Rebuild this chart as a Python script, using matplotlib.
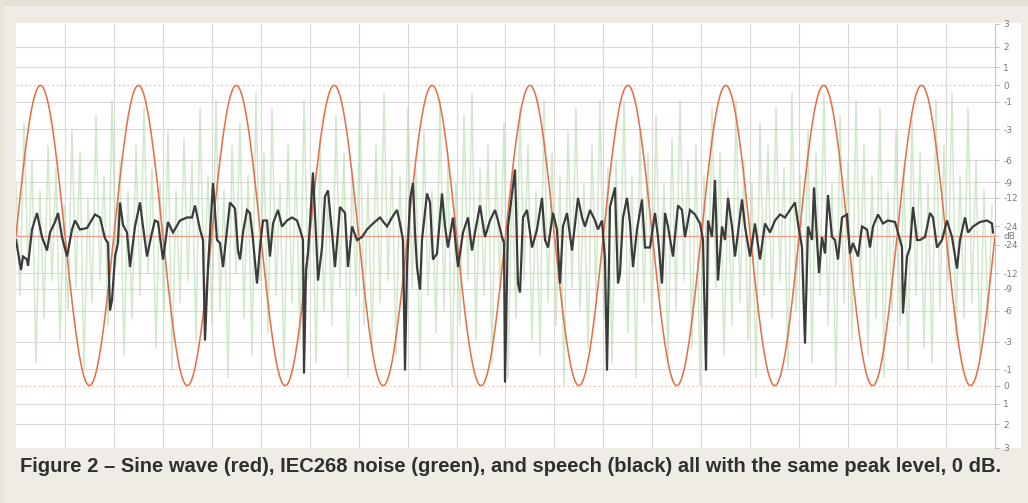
import numpy as np
import matplotlib
matplotlib.use("Agg")
import matplotlib.pyplot as plt
from matplotlib.patches import Rectangle

# ---------------- data ----------------
n_samples = 979            # horizontal extent of the trace (samples)
sine_cycles = 10           # red sine: 10 full cycles across the window
sine_peak_db = 0.0         # all signals peak at 0 dB

# right-hand scale, dB labels (upper half then lower half)
db_ticks_upper = [3, 2, 1, 0, -1, -3, -6, -9, -12, -24]
db_ticks_lower = [-24, -12, -9, -6, -3, -1, 0, 1, 2, 3]
grid_db = [2, 1, -1, -3, -6, -9, -12]

# speech (black): sample index and linear amplitude (1.0 = 0 dB)
speech_t = [0, 5, 7, 11, 12, 16, 21, 26, 31, 34, 39, 42, 46, 51, 56, 59, 64, 71, 79, 84,
            89, 92, 94, 96, 99, 102, 104, 107, 111, 114, 119, 124, 127, 131, 136, 139, 142, 147, 152, 157,
            164, 171, 176, 179, 184, 187, 189, 192, 197, 201, 204, 207, 214, 219, 222, 224, 227, 231, 234, 237,
            241, 244, 247, 251, 254, 257, 262, 266, 271, 276, 281, 284, 287, 288, 290, 292, 294, 297, 301, 302,
            306, 309, 312, 316, 319, 324, 329, 332, 336, 341, 346, 351, 357, 364, 371, 376, 381, 384, 387, 389,
            391, 394, 397, 399, 401, 404, 406, 411, 414, 417, 421, 426, 429, 432, 437, 442, 447, 452, 456, 459,
            464, 469, 474, 479, 482, 486, 488, 489, 492, 496, 499, 502, 504, 507, 511, 516, 521, 526, 529, 532,
            537, 541, 544, 547, 551, 556, 562, 566, 569, 574, 579, 582, 586, 589, 591, 594, 599, 602, 604, 607,
            611, 614, 617, 621, 626, 629, 634, 639, 642, 646, 649, 652, 657, 662, 666, 669, 674, 679, 684, 687,
            690, 692, 696, 699, 702, 706, 709, 712, 716, 719, 722, 726, 729, 734, 739, 744, 749, 754, 759, 764,
            769, 774, 779, 782, 786, 789, 792, 796, 798, 801, 803, 806, 809, 812, 816, 819, 822, 826, 831, 834,
            837, 842, 846, 851, 854, 857, 862, 867, 872, 879, 882, 886, 887, 891, 894, 897, 901, 904, 909, 914,
            917, 921, 926, 931, 936, 941, 944, 949, 952, 957, 964, 971, 976, 977]
speech_amp = [-0.03, -0.23, -0.14, -0.16, -0.20, 0.04, 0.15, -0.01, -0.10, 0.02, 0.09, 0.15, -0.01, -0.14, 0.04, 0.10, 0.04, 0.05, 0.14, 0.12,
              -0.02, -0.05, -0.50, -0.43, -0.14, -0.05, 0.22, 0.07, 0.02, -0.21, 0.06, 0.22, 0.06, -0.14, 0.02, 0.10, 0.09, -0.16, 0.09, 0.02,
              0.10, 0.12, 0.12, 0.20, 0.04, -0.03, -0.70, -0.21, 0.35, -0.03, -0.05, -0.21, 0.22, 0.18, -0.10, -0.16, 0.02, 0.17, 0.15, -0.03,
              -0.32, -0.08, 0.10, 0.10, -0.14, 0.08, 0.17, 0.06, 0.10, 0.12, 0.10, 0.04, -0.03, -0.92, -0.23, -0.12, 0.08, 0.42, -0.14, -0.30,
              -0.08, 0.26, 0.30, 0.02, -0.21, 0.19, 0.15, -0.21, 0.06, -0.03, -0.01, 0.04, 0.08, 0.12, 0.06, 0.12, 0.17, 0.08, -0.03, -0.90,
              -0.21, 0.24, 0.35, 0.02, -0.21, -0.36, -0.03, 0.28, 0.22, -0.16, -0.12, 0.28, 0.06, -0.08, 0.12, -0.21, 0.02, 0.12, -0.10, 0.02,
              0.20, -0.01, 0.10, 0.17, 0.10, -0.01, -0.05, -0.98, 0.06, 0.28, 0.44, -0.32, -0.38, 0.12, 0.17, -0.08, 0.04, 0.25, -0.03, -0.08,
              0.15, 0.04, -0.32, 0.06, 0.15, -0.10, 0.25, 0.12, 0.06, 0.17, 0.10, 0.04, 0.10, -0.16, -0.90, 0.19, 0.32, -0.32, -0.25, 0.12,
              0.25, 0.08, -0.21, 0.04, 0.24, -0.08, -0.08, 0.15, -0.01, -0.32, 0.15, 0.06, -0.14, 0.20, 0.17, -0.01, 0.17, 0.14, 0.08, -0.03,
              -0.90, 0.10, -0.01, 0.37, -0.30, 0.06, -0.03, 0.25, 0.06, -0.14, 0.02, 0.24, 0.06, -0.14, 0.08, -0.16, 0.08, 0.02, 0.10, 0.14,
              0.12, 0.17, 0.22, 0.08, -0.08, -0.72, 0.06, -0.03, 0.32, -0.03, -0.25, -0.01, -0.12, 0.27, -0.01, -0.03, -0.16, 0.12, 0.14, -0.12,
              -0.05, -0.14, 0.06, 0.04, -0.08, 0.06, 0.14, 0.08, 0.10, 0.09, 0.02, -0.08, -0.52, -0.14, -0.08, 0.19, -0.03, -0.03, -0.01, 0.15,
              0.12, -0.08, -0.03, 0.10, -0.01, -0.22, -0.03, 0.12, 0.02, 0.06, 0.09, 0.10, 0.08, 0.02]

# IEC268 noise (green): one value every 4 samples, linear amplitude
noise_step = 4
noise_amp = [
    0.35, -0.4, 0.75, -0.2, 0.5, -0.85, 0.3, -0.55, 0.6, -0.3,
    0.45, -0.7, 0.2, -0.5, 0.7, -0.35, 0.55, -0.9, 0.25, -0.45,
    0.8, -0.3, 0.4, -0.6, 0.9, -0.2, 0.5, -0.8, 0.3, -0.55,
    0.6, -0.4, 0.85, -0.25, 0.45, -0.75, 0.35, -0.5, 0.7, -0.9,
    0.3, -0.45, 0.65, -0.3, 0.5, -0.7, 0.85, -0.35, 0.4, -0.6,
    0.9, -0.5, 0.3, -0.95, 0.6, -0.25, 0.75, -0.55, 0.4, -0.8,
    0.95, -0.3, 0.55, -0.65, 0.85, -0.4, 0.35, -0.9, 0.6, -0.45,
    0.5, -0.7, 0.9, -0.3, 0.4, -0.85, 0.65, -0.5, 0.3, -0.6,
    0.8, -0.35, 0.55, -0.95, 0.45, -0.4, 0.9, -0.6, 0.35, -0.75,
    0.6, -0.45, 0.95, -0.3, 0.5, -0.8, 0.4, -0.55, 0.85, -0.35,
    0.45, -0.9, 0.7, -0.4, 0.3, -0.65, 0.9, -0.5, 0.55, -1.0,
    0.35, -0.6, 0.8, -0.3, 0.95, -0.7, 0.45, -0.4, 0.6, -0.85,
    0.5, -0.35, 0.75, -0.95, 0.4, -0.55, 0.85, -0.3, 0.6, -0.7,
    0.3, -0.8, 0.9, -0.45, 0.55, -0.6, 0.4, -1.0, 0.7, -0.35,
    0.85, -0.5, 0.35, -0.75, 0.6, -0.4, 0.9, -0.55, 0.45, -0.85,
    0.5, -0.3, 0.9, -0.65, 0.4, -0.95, 0.7, -0.45, 0.55, -0.6,
    0.8, -0.4, 0.35, -0.85, 0.65, -0.5, 0.9, -0.3, 0.5, -0.75,
    0.6, -1.0, 0.4, -0.55, 0.85, -0.35, 0.55, -0.8, 0.3, -0.6,
    0.9, -0.45, 0.5, -0.7, 0.35, -0.95, 0.75, -0.4, 0.6, -0.55,
    0.85, -0.3, 0.45, -0.9, 0.95, -0.5, 0.4, -0.65, 0.7, -0.85,
    0.55, -0.4, 0.95, -0.6, 0.35, -1.0, 0.8, -0.45, 0.5, -0.7,
    0.9, -0.35, 0.6, -0.8, 0.4, -0.55, 0.85, -0.95, 0.3, -0.5,
    0.7, -0.6, 0.45, -0.9, 0.8, -0.4, 0.55, -0.75, 0.35, -0.85,
    0.9, -0.5, 0.6, -0.3, 0.95, -0.7, 0.4, -0.55, 0.85, -0.45,
    0.5, -0.8, 0.3, -0.6, 0.2]

caption = ("Figure 2 \u2013 Sine wave (red), IEC268 noise (green), and speech (black) "
           "all with the same peak level, 0 dB.")

# ---------------- figure ----------------
W, H = 1028, 503
fig = plt.figure(figsize=(W / 100, H / 100), dpi=100)
fig.patch.set_facecolor("#eeece5")

# decorative frame pieces (figure coordinates)
fig.patches.append(Rectangle((0, 1 - 6 / H), 1, 6 / H, transform=fig.transFigure,
                             facecolor="#e4e0d5", edgecolor="none", zorder=-5))
fig.patches.append(Rectangle((0, 0), 4 / W, 1, transform=fig.transFigure,
                             facecolor="#e7e3d9", edgecolor="none", zorder=-5))
fig.patches.append(Rectangle((16 / W, (H - 448) / H), (1021 - 16) / W, (448 - 22.5) / H,
                             transform=fig.transFigure, facecolor="white",
                             edgecolor="none", zorder=-5))

ylim = 10 ** (3 / 20)
ax = fig.add_axes([16 / W, (H - 447.5) / H, 979 / W, 424 / H])
ax.set_zorder(5)
ax.set_facecolor("white")
ax.set_xlim(0, n_samples)
ax.set_ylim(-ylim, ylim)

# grid
for k in range(1, 20):
    ax.axvline(k * n_samples / 20, color="#dcd6d6", lw=0.8, zorder=1)
for d in grid_db:
    a = 10 ** (d / 20)
    ax.axhline(a, color="#e0d8d8", lw=0.8, zorder=1)
    ax.axhline(-a, color="#e0d8d8", lw=0.8, zorder=1)
peak = 10 ** (sine_peak_db / 20)
ax.axhline(peak, color="#f1b4a4", lw=0.8, ls=(0, (1.5, 2.5)), zorder=1)
ax.axhline(-peak, color="#f1b4a4", lw=0.8, ls=(0, (1.5, 2.5)), zorder=1)

# noise (green)
noise_t = np.arange(len(noise_amp)) * noise_step
ax.plot(noise_t, noise_amp, color="#b2dcaa", lw=1.1, alpha=0.6, zorder=2)

# sine (red)
t = np.linspace(0, n_samples, 4000)
ax.plot(t, peak * np.sin(2 * np.pi * sine_cycles * t / n_samples),
        color="#e6704a", lw=1.15, zorder=3)
ax.axhline(0, color="#e8a088", lw=1.0, zorder=3)

# speech (black)
ax.plot(speech_t, speech_amp, color="#3b3b3b", lw=1.6, zorder=4, solid_joinstyle="miter")

# right-hand dB scale
tick_pos = [10 ** (d / 20) for d in db_ticks_upper] + [0.0] + \
           [-10 ** (d / 20) for d in db_ticks_lower]
tick_lab = [str(d) for d in db_ticks_upper] + ["dB"] + [str(d) for d in db_ticks_lower]
ax.yaxis.tick_right()
ax.set_yticks(tick_pos)
ax.set_yticklabels(tick_lab)
ax.tick_params(axis="y", length=3, width=0.6, color="#b0b0b0", labelsize=6.5,
               labelcolor="#7a7a7a", pad=3)
ax.set_xticks([])
for s in ["top", "bottom", "left"]:
    ax.spines[s].set_visible(False)
ax.spines["right"].set_color("#c4c4c4")
ax.spines["right"].set_linewidth(0.8)

# caption
fig.text(20 / W, 1 - 466 / H, caption, ha="left", va="center",
         fontsize=14.5, fontweight="bold", color="#2f2f2f", family="Liberation Sans")

fig.savefig("out.png", dpi=100, facecolor=fig.get_facecolor())
